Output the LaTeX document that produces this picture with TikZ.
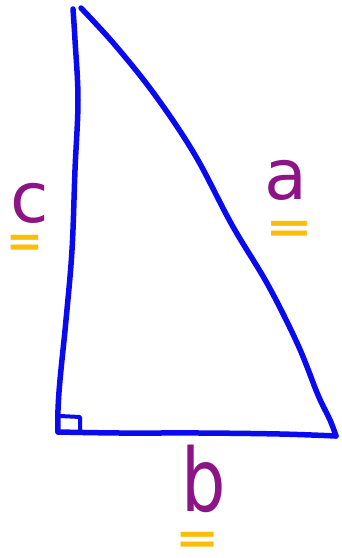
\documentclass[tikz,border=0pt]{standalone}
\usepackage{fontspec}
\setsansfont{DejaVu Sans}
\usetikzlibrary{calc}
\definecolor{pen}{RGB}{10,10,240}
\definecolor{plum}{RGB}{140,20,135}
\definecolor{marker}{RGB}{250,190,10}

\begin{document}
\begin{tikzpicture}[
  x=1pt,y=-1pt,
  side/.style={draw=pen,line width=5.5pt,line cap=round,line join=round},
  letter/.style={text=plum,font=\sffamily\fontsize{70}{70}\selectfont,inner sep=0pt},
  eqmark/.style={text=marker,font=\sffamily\bfseries\fontsize{44}{44}\selectfont,inner sep=0pt}
]
\useasboundingbox (0,0) rectangle (342,558);
% corners of the triangle
\coordinate (top) at (73,9);
\coordinate (hyp) at (81,8);
\coordinate (corner) at (58,432);
\coordinate (right) at (336,436);
% sides
\draw[side] plot[smooth,tension=.6] coordinates
  {(top) (75,40) (78,100) (75,170) (72,250) (66,320) (60,380) (58,410) (corner)};
\draw[side] plot[smooth,tension=.6] coordinates
  {(hyp) (115,45) (155,95) (195,155) (232,225) (268,285) (298,345) (318,395) (330,420) (right)};
\draw[side] plot[smooth,tension=.6] coordinates
  {(corner) (120,433) (200,433) (280,434) (right)};
% right angle
\draw[side,line width=4pt] (60,416) -- (80,417) -- (80,432);
% labels
\node[letter] (c) at (30,203) {c};
\node[eqmark] (ceq) at (25,246) {=};
\node[letter] (a) at (286,180) {a};
\node[eqmark,xscale=1.3] (aeq) at (289,232) {=};
\node[letter,yscale=1.25] (b) at (204,479) {b};
\node[eqmark,xscale=1.2] (beq) at (198,543) {=};
\end{tikzpicture}
\end{document}
